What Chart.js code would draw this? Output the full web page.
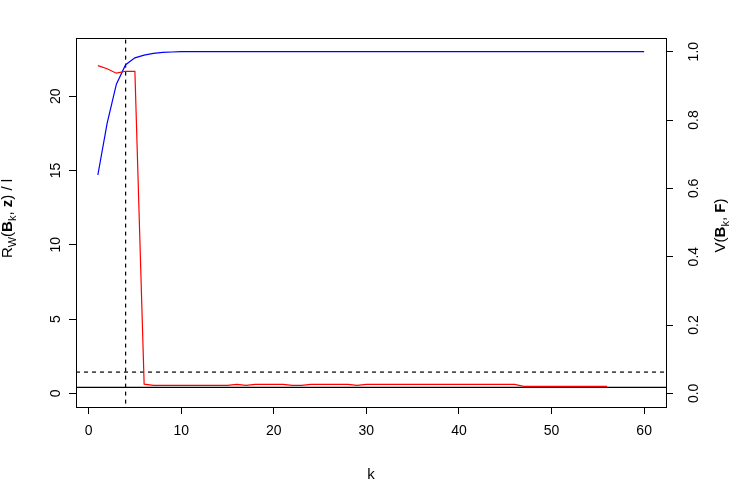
<!DOCTYPE html>
<html>
<head>
<meta charset="utf-8">
<script src="https://cdn.jsdelivr.net/npm/chart.js@4/dist/chart.umd.min.js"></script>
<style>
  body { margin: 0; background: #fff; }
  canvas { display: block; }
</style>
</head>
<body>
<canvas id="myChart" width="743" height="484"></canvas>
<script>
// k values (x axis)
const kValues = [
  1, 2, 3, 4, 5, 6, 7, 8, 9, 10, 11, 12, 13, 14, 15, 16, 17, 18, 19, 20,
  21, 22, 23, 24, 25, 26, 27, 28, 29, 30, 31, 32, 33, 34, 35, 36, 37, 38, 39, 40,
  41, 42, 43, 44, 45, 46, 47, 48, 49, 50, 51, 52, 53, 54, 55, 56, 57, 58, 59, 60,
];

// R_W(B_k,z)/l, left axis (k = 1..56)
const rwValues = [
  22.06, 21.85, 21.55, 21.68, 21.68, 0.62, 0.53, 0.53, 0.53, 0.53,
  0.53, 0.53, 0.53, 0.53, 0.53, 0.6, 0.53, 0.6, 0.6, 0.6,
  0.6, 0.53, 0.53, 0.6, 0.6, 0.6, 0.6, 0.6, 0.53, 0.6,
  0.6, 0.6, 0.6, 0.6, 0.6, 0.6, 0.6, 0.6, 0.6, 0.6,
  0.6, 0.6, 0.6, 0.6, 0.6, 0.6, 0.47, 0.47, 0.47, 0.47,
  0.47, 0.47, 0.47, 0.47, 0.47, 0.47,
];

// V(B_k,F), right axis (k = 1..60)
const vValues = [
  0.639, 0.79, 0.905, 0.962, 0.982, 0.99, 0.995, 0.998, 0.999, 1.0,
  1.0, 1.0, 1.0, 1.0, 1.0, 1.0, 1.0, 1.0, 1.0, 1.0,
  1.0, 1.0, 1.0, 1.0, 1.0, 1.0, 1.0, 1.0, 1.0, 1.0,
  1.0, 1.0, 1.0, 1.0, 1.0, 1.0, 1.0, 1.0, 1.0, 1.0,
  1.0, 1.0, 1.0, 1.0, 1.0, 1.0, 1.0, 1.0, 1.0, 1.0,
  1.0, 1.0, 1.0, 1.0, 1.0, 1.0, 1.0, 1.0, 1.0, 1.0,
];

// reference lines
const chosenK = 4;
const dashedLevel = 1.43;
const solidLevel = 0.4;

// tick labels
const xTicks = [0, 10, 20, 30, 40, 50, 60];
const leftTicks = [0, 5, 10, 15, 20];
const rightTicks = [0, 0.2, 0.4, 0.6, 0.8, 1.0];

const FONT = "'Liberation Sans', Arial, sans-serif";
Chart.defaults.font.family = FONT;
Chart.defaults.font.size = 14;
Chart.defaults.color = "#000";

// R style 4% range extension
function extendRange(lo, hi) {
  const d = (hi - lo) * 0.04;
  return [lo - d, hi + d];
}
const xRange = extendRange(1, 60);
const leftRange = extendRange(0, 23);
const rightRange = extendRange(0, 1);

function toPoints(xs, ys) {
  return ys.map((v, i) => ({ x: xs[i], y: v }));
}

// draws text with bold / subscript pieces, centered on (x, y)
function drawRich(ctx, parts, x, y, angle) {
  ctx.save();
  ctx.translate(x, y);
  ctx.rotate(angle);
  ctx.textBaseline = "middle";
  ctx.textAlign = "left";
  ctx.fillStyle = "#000";
  const fontOf = (p) => (p.bold ? "bold " : "") + (p.sub ? 11 : 15) + "px " + FONT;
  let total = 0;
  const widths = parts.map((p) => {
    ctx.font = fontOf(p);
    const w = ctx.measureText(p.t).width;
    total += w;
    return w;
  });
  let cur = -total / 2;
  parts.forEach((p, i) => {
    ctx.font = fontOf(p);
    ctx.fillText(p.t, cur, p.sub ? 4.5 : 0);
    cur += widths[i];
  });
  ctx.restore();
}

const boxAndTitles = {
  id: "boxAndTitles",
  afterDraw(chart) {
    const ctx = chart.ctx;
    const a = chart.chartArea;
    ctx.save();
    ctx.strokeStyle = "#000";
    ctx.lineWidth = 1;
    ctx.strokeRect(Math.round(a.left) + 0.5, Math.round(a.top) + 0.5,
      Math.round(a.right - a.left), Math.round(a.bottom - a.top));
    ctx.restore();

    const midY = (a.top + a.bottom) / 2;
    drawRich(ctx, [{ t: "k" }], (a.left + a.right) / 2, 475, 0);
    drawRich(ctx, [
      { t: "R" }, { t: "W", sub: true }, { t: "(" }, { t: "B", bold: true },
      { t: "k", sub: true }, { t: ", " }, { t: "z", bold: true }, { t: ") / l" },
    ], 8, midY - 4, -Math.PI / 2);
    drawRich(ctx, [
      { t: "V(" }, { t: "B", bold: true }, { t: "k", sub: true }, { t: ", " },
      { t: "F", bold: true }, { t: ")" },
    ], 721, midY + 3, -Math.PI / 2);
  },
};

const tickGrid = {
  drawOnChartArea: false,
  drawTicks: true,
  tickLength: 7,
  color: "#000",
  lineWidth: 1,
};

new Chart(document.getElementById("myChart").getContext("2d"), {
  type: "line",
  data: {
    datasets: [
      {
        data: toPoints(kValues, rwValues),
        yAxisID: "y",
        borderColor: "#ff0000",
        borderWidth: 1.2,
        pointRadius: 0,
      },
      {
        data: toPoints(kValues, vValues),
        yAxisID: "y1",
        borderColor: "#0000ff",
        borderWidth: 1.2,
        pointRadius: 0,
      },
      {
        data: [{ x: chosenK, y: -5 }, { x: chosenK, y: 30 }],
        yAxisID: "y",
        borderColor: "#000",
        borderWidth: 1.2,
        borderDash: [4, 4],
        pointRadius: 0,
      },
      {
        data: [{ x: -10, y: dashedLevel }, { x: 80, y: dashedLevel }],
        yAxisID: "y",
        borderColor: "#000",
        borderWidth: 1.2,
        borderDash: [4, 4],
        pointRadius: 0,
      },
      {
        data: [{ x: -10, y: solidLevel }, { x: 80, y: solidLevel }],
        yAxisID: "y",
        borderColor: "#000",
        borderWidth: 1.2,
        pointRadius: 0,
      },
    ],
  },
  options: {
    responsive: false,
    animation: false,
    events: [],
    layout: { padding: { top: 38, left: 0, right: 0, bottom: 0 } },
    plugins: { legend: { display: false }, tooltip: { enabled: false } },
    elements: { line: { tension: 0 } },
    scales: {
      x: {
        type: "linear",
        min: xRange[0],
        max: xRange[1],
        grid: tickGrid,
        border: { display: false },
        ticks: { padding: 9, maxRotation: 0 },
        afterBuildTicks: (scale) => {
          scale.ticks = xTicks.map((v) => ({ value: v }));
        },
        afterFit: (scale) => {
          scale.height = 77;
        },
      },
      y: {
        position: "left",
        min: leftRange[0],
        max: leftRange[1],
        grid: tickGrid,
        border: { display: false },
        ticks: { minRotation: 90, maxRotation: 90, crossAlign: "center", padding: 5 },
        afterBuildTicks: (scale) => {
          scale.ticks = leftTicks.map((v) => ({ value: v }));
        },
        afterFit: (scale) => {
          scale.width = 76;
        },
      },
      y1: {
        position: "right",
        min: rightRange[0],
        max: rightRange[1],
        grid: tickGrid,
        border: { display: false },
        ticks: {
          minRotation: 90,
          maxRotation: 90,
          crossAlign: "center",
          padding: 11,
          callback: (v) => v.toFixed(1),
        },
        afterBuildTicks: (scale) => {
          scale.ticks = rightTicks.map((v) => ({ value: v }));
        },
        afterFit: (scale) => {
          scale.width = 77;
        },
      },
    },
  },
  plugins: [boxAndTitles],
});
</script>
</body>
</html>
